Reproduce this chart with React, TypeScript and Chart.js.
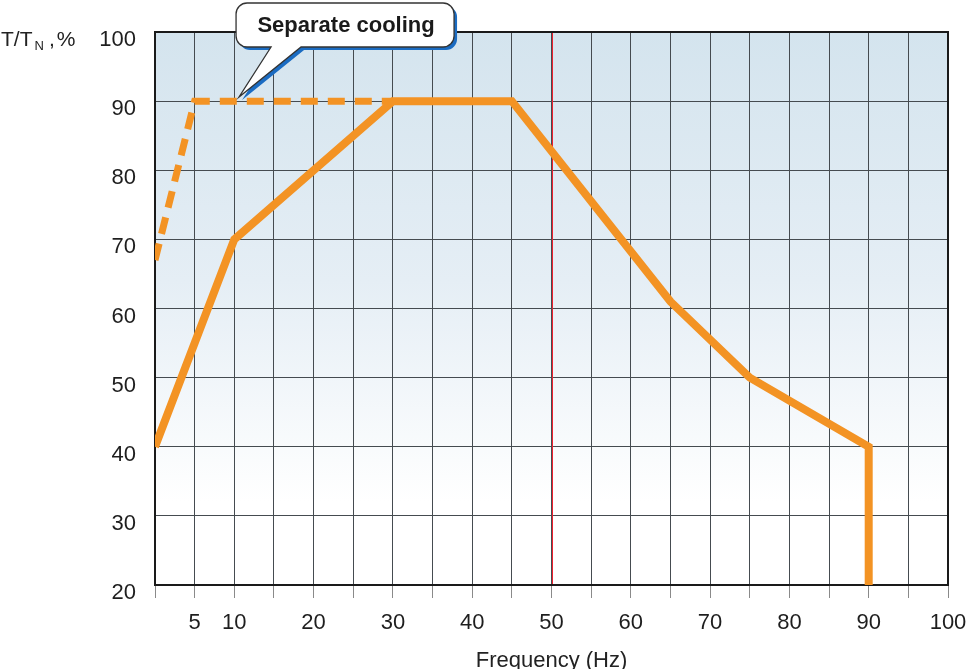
import React, { useEffect, useRef } from 'react';
import { Chart, registerables } from 'chart.js';

Chart.register(...registerables);

// ---- data ----
const solidFreq = [0, 10, 30, 45, 65, 75, 90, 90];
const solidTorque = [40, 70, 90, 90, 61, 50, 40, 20];
const dashedFreq = [0, 5, 30];
const dashedTorque = [67, 90, 90];
const xLabelValues = [5, 10, 20, 30, 40, 50, 60, 70, 80, 90, 100];
const ratedFrequency = 50;
const calloutText = 'Separate cooling';
const calloutAnchorFreq = 10.6;
const calloutAnchorTorque = 90.6;
const xTitle = 'Frequency (Hz)';

const FONT = '"Liberation Sans", Arial, Helvetica, sans-serif';
const ORANGE = '#f39324';
const GRID = '#454b50';

function toPoints(xs: number[], ys: number[]) {
  return xs.map((x, i) => ({ x, y: ys[i] }));
}

const backgroundPlugin = {
  id: 'bgGradient',
  beforeDraw(chart: any) {
    const { ctx, chartArea: a } = chart;
    ctx.save();
    ctx.fillStyle = '#ffffff';
    ctx.fillRect(0, 0, chart.width, chart.height);
    const g = ctx.createLinearGradient(0, a.top, 0, a.bottom);
    g.addColorStop(0, '#d4e4ee');
    g.addColorStop(0.45, '#e5eef5');
    g.addColorStop(0.85, '#ffffff');
    g.addColorStop(1, '#ffffff');
    ctx.fillStyle = g;
    ctx.fillRect(a.left, a.top, a.right - a.left, a.bottom - a.top);
    ctx.restore();
  },
};

const framePlugin = {
  id: 'frame',
  beforeDatasetsDraw(chart: any) {
    const { ctx, chartArea: a, scales } = chart;
    ctx.save();
    // rated-frequency marker line
    const rx = Math.round(scales.x.getPixelForValue(ratedFrequency)) + 0.5;
    ctx.strokeStyle = '#f0202e';
    ctx.lineWidth = 1;
    ctx.beginPath();
    ctx.moveTo(rx, a.top);
    ctx.lineTo(rx, a.bottom);
    ctx.stroke();
    // frame
    ctx.strokeStyle = '#1a1a1a';
    ctx.lineWidth = 2;
    ctx.strokeRect(a.left, a.top, a.right - a.left, a.bottom - a.top);
    ctx.restore();
  },
};

const annotationPlugin = {
  id: 'annotations',
  afterDraw(chart: any) {
    const { ctx, chartArea: a, scales } = chart;
    const tipX = scales.x.getPixelForValue(calloutAnchorFreq);
    const tipY = scales.y.getPixelForValue(calloutAnchorTorque);
    ctx.save();

    // callout box
    const bx = tipX - 3;
    const by = 3;
    const bw = 218;
    const bh = 44;
    const r = 11;
    const p1 = tipX + 32;
    const p2 = tipX + 62;
    const path = (ox: number, oy: number) => {
      ctx.beginPath();
      ctx.moveTo(bx + r + ox, by + oy);
      ctx.lineTo(bx + bw - r + ox, by + oy);
      ctx.arcTo(bx + bw + ox, by + oy, bx + bw + ox, by + r + oy, r);
      ctx.lineTo(bx + bw + ox, by + bh - r + oy);
      ctx.arcTo(bx + bw + ox, by + bh + oy, bx + bw - r + ox, by + bh + oy, r);
      ctx.lineTo(p2 + ox, by + bh + oy);
      ctx.lineTo(tipX + ox, tipY + oy);
      ctx.lineTo(p1 + ox, by + bh + oy);
      ctx.lineTo(bx + r + ox, by + bh + oy);
      ctx.arcTo(bx + ox, by + bh + oy, bx + ox, by + bh - r + oy, r);
      ctx.lineTo(bx + ox, by + r + oy);
      ctx.arcTo(bx + ox, by + oy, bx + r + ox, by + oy, r);
      ctx.closePath();
    };
    path(3, 3);
    ctx.fillStyle = '#1b6cc2';
    ctx.fill();
    path(0, 0);
    ctx.fillStyle = '#ffffff';
    ctx.fill();
    ctx.strokeStyle = '#333333';
    ctx.lineWidth = 1.3;
    ctx.stroke();

    ctx.fillStyle = '#1a1a1a';
    ctx.font = `bold 22px ${FONT}`;
    ctx.textAlign = 'center';
    ctx.textBaseline = 'middle';
    ctx.fillText(calloutText, bx + bw / 2 + 1, by + bh / 2 + 1);

    // x-axis title
    ctx.font = `22px ${FONT}`;
    ctx.fillStyle = '#222222';
    ctx.textAlign = 'center';
    ctx.textBaseline = 'alphabetic';
    ctx.fillText(xTitle, (a.left + a.right) / 2, 667);

    // y-axis title T/T_N,%
    ctx.textAlign = 'left';
    ctx.font = `21px ${FONT}`;
    let x = 1;
    ctx.fillText('T/T', x, 46);
    x += ctx.measureText('T/T').width + 2;
    ctx.font = `13px ${FONT}`;
    ctx.fillText('N', x, 50);
    x += ctx.measureText('N').width + 5;
    ctx.font = `21px ${FONT}`;
    ctx.fillText(',', x, 46);
    x += ctx.measureText(',').width + 2;
    ctx.fillText('%', x, 46);

    ctx.restore();
  },
};

export default function App() {
  const ref = useRef<HTMLCanvasElement | null>(null);

  useEffect(() => {
    document.body.style.margin = '0';
    if (!ref.current) return;
    const chart = new Chart(ref.current, {
      type: 'line',
      data: {
        datasets: [
          {
            label: 'Self cooling',
            data: toPoints(solidFreq, solidTorque),
            borderColor: ORANGE,
            borderWidth: 8,
            pointRadius: 0,
            borderJoinStyle: 'miter',
            borderCapStyle: 'butt',
            tension: 0,
            fill: false,
          },
          {
            label: 'Separate cooling',
            data: toPoints(dashedFreq, dashedTorque),
            borderColor: ORANGE,
            borderWidth: 7,
            borderDash: [17, 10],
            pointRadius: 0,
            borderJoinStyle: 'miter',
            borderCapStyle: 'butt',
            tension: 0,
            fill: false,
          },
        ],
      },
      options: {
        responsive: false,
        animation: false,
        parsing: true,
        layout: { padding: { top: 32, right: 25, left: 0, bottom: 0 } },
        plugins: {
          legend: { display: false },
          tooltip: { enabled: false },
          title: { display: false },
        },
        scales: {
          x: {
            type: 'linear',
            min: 0,
            max: 100,
            afterFit(scale: any) {
              scale.height = 84;
              scale.paddingLeft = 0;
              scale.paddingRight = 0;
            },
            ticks: {
              stepSize: 5,
              autoSkip: false,
              maxRotation: 0,
              padding: 12,
              color: '#1e1e1e',
              font: { family: FONT, size: 22 },
              callback: (v: any) => (xLabelValues.includes(Number(v)) ? String(v) : ''),
            },
            grid: {
              color: GRID,
              lineWidth: 1,
              drawTicks: true,
              tickLength: 13,
              tickColor: '#8a8a8a',
              tickWidth: 1,
            },
            border: { display: true, color: '#1a1a1a', width: 2 },
          },
          y: {
            type: 'linear',
            min: 20,
            max: 100,
            afterFit(scale: any) {
              scale.width = 155;
              scale.paddingTop = 0;
              scale.paddingBottom = 0;
            },
            ticks: {
              stepSize: 10,
              padding: 19,
              labelOffset: 8,
              color: '#1e1e1e',
              font: { family: FONT, size: 22 },
            },
            grid: {
              color: GRID,
              lineWidth: 1,
              drawTicks: false,
            },
            border: { display: true, color: '#1a1a1a', width: 2 },
          },
        },
      },
      plugins: [backgroundPlugin, framePlugin, annotationPlugin],
    } as any);
    return () => chart.destroy();
  }, []);

  return (
    <div style={{ width: 973, height: 669 }}>
      <canvas ref={ref} width={973} height={669} style={{ display: 'block' }} />
    </div>
  );
}
